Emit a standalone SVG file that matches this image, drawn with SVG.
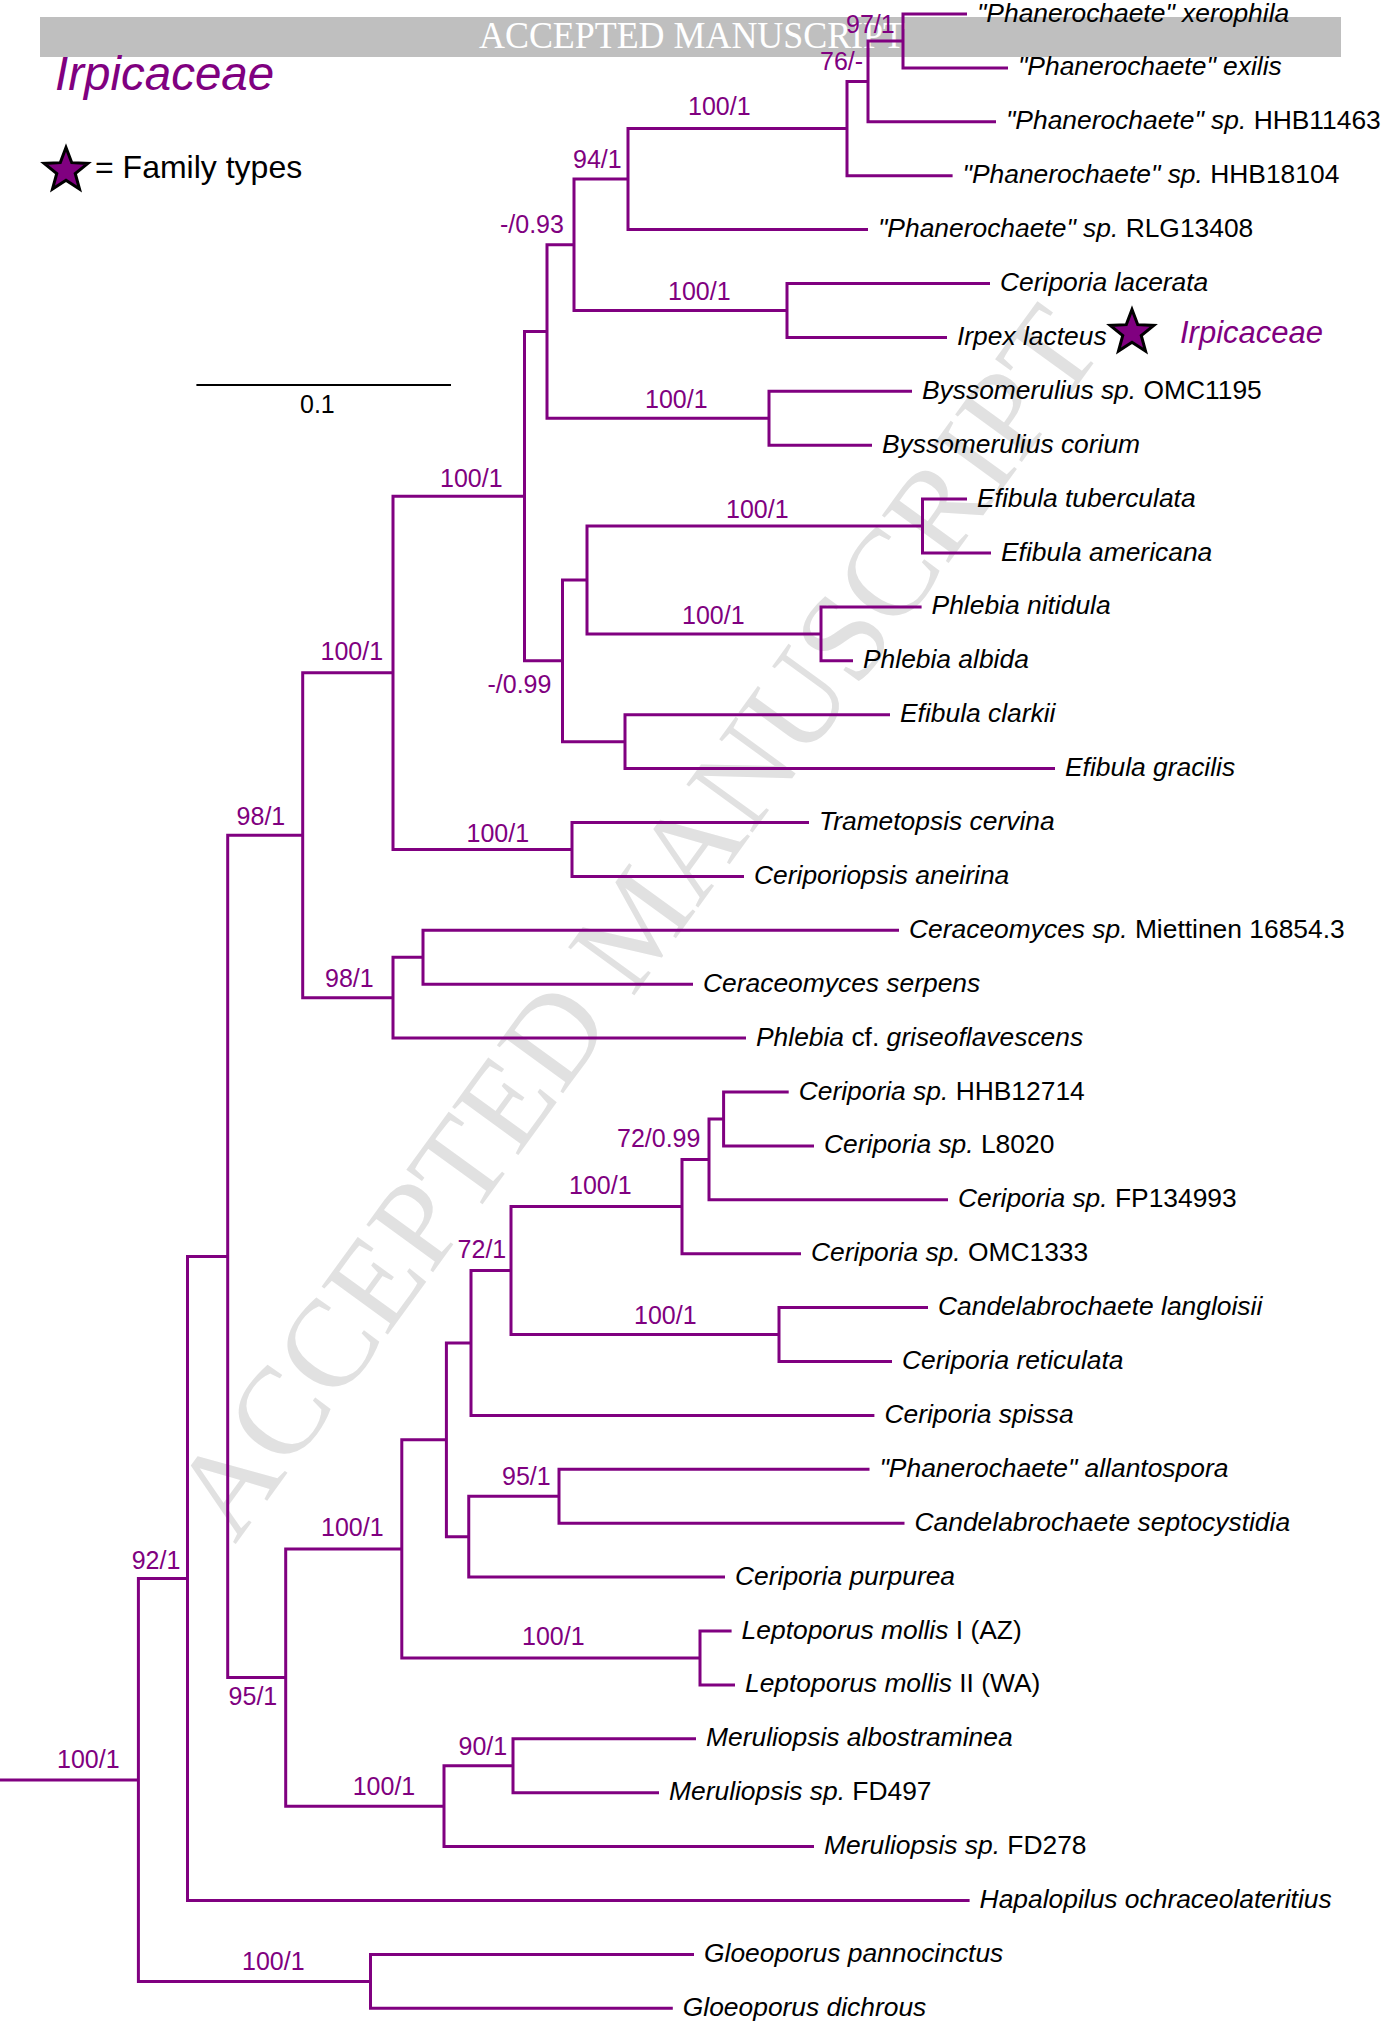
<svg xmlns="http://www.w3.org/2000/svg" width="1384" height="2022" viewBox="0 0 1384 2022">
<style>
.br{fill:none;stroke:#800080;stroke-width:3;stroke-linejoin:miter}
.lf{font-family:"Liberation Sans",Arial,sans-serif;font-size:26.4px;fill:#000;font-style:italic}
.r{font-style:normal}
.sp{font-family:"Liberation Sans",Arial,sans-serif;font-size:25px;fill:#800080}
.star{fill:#800080;stroke:#000;stroke-width:3;stroke-linejoin:miter}
</style>
<defs>
<path id="star" d="M0,-23 L5.7,-7.85 L21.87,-7.11 L9.23,3 L13.52,18.61 L0,9.7 L-13.52,18.61 L-9.23,3 L-21.87,-7.11 L-5.7,-7.85 Z"/>
</defs>
<rect width="1384" height="2022" fill="#fff"/>
<g id="watermark">
<text transform="translate(235,1545) rotate(-54)" font-family="Liberation Serif,serif" font-size="125" fill="#e1e1e1" textLength="1480" lengthAdjust="spacingAndGlyphs">ACCEPTED MANUSCRIPT</text>
</g>
<g id="banner">
<rect x="40" y="17" width="1301" height="40" fill="#bfbfbf"/>
<text x="479" y="48" font-family="Liberation Serif,serif" font-size="37" fill="#fff" textLength="426" lengthAdjust="spacingAndGlyphs">ACCEPTED MANUSCRIPT</text>
</g>
<g id="title">
<text x="55" y="90" font-family="Liberation Sans,Arial,sans-serif" font-size="47.5" font-style="italic" fill="#800080">Irpicaceae</text>
</g>
<g id="legend">
<use href="#star" class="star" transform="translate(66,170.5)"/>
<text x="95" y="178" font-family="Liberation Sans,Arial,sans-serif" font-size="32" fill="#000">= Family types</text>
</g>
<g id="scalebar">
<line x1="196.4" y1="385" x2="451" y2="385" stroke="#000" stroke-width="2"/>
<text x="300" y="413" font-family="Liberation Sans,Arial,sans-serif" font-size="25" fill="#000">0.1</text>
</g>
<g id="branches" class="br">
<path d="M967 14 H903 V67.9 H1008"/>
<path d="M903 41 H868 V121.8 H996"/>
<path d="M868 81.4 H847 V175.7 H952.6"/>
<path d="M847 128.6 H628 V229.6 H868"/>
<path d="M990 283.5 H787 V337.4 H947"/>
<path d="M628 179.1 H574 V310.5 H787"/>
<path d="M912 391.3 H769 V445.2 H872"/>
<path d="M574 244.8 H547 V418.3 H769"/>
<path d="M967 499.1 H922.5 V553 H991"/>
<path d="M921.6 606.9 H821 V660.8 H853"/>
<path d="M922.5 526 H587 V633.9 H821"/>
<path d="M890 714.7 H625 V768.6 H1055"/>
<path d="M587 580 H562.5 V741.7 H625"/>
<path d="M547 331.5 H524.5 V660.8 H562.5"/>
<path d="M809 822.5 H572 V876.4 H744"/>
<path d="M524.5 496.2 H393 V849.5 H572"/>
<path d="M899 930.3 H423 V984.2 H693"/>
<path d="M423 957.3 H393 V1038.1 H746"/>
<path d="M393 672.8 H302.7 V997.7 H393"/>
<path d="M788.7 1092 H723.6 V1145.9 H814"/>
<path d="M723.6 1119 H709 V1199.8 H948"/>
<path d="M709 1159.4 H682 V1253.7 H801"/>
<path d="M928 1307.6 H779 V1361.5 H892"/>
<path d="M682 1206.5 H511 V1334.5 H779"/>
<path d="M511 1270.5 H471 V1415.4 H874.4"/>
<path d="M869.5 1469.3 H559 V1523.2 H904.5"/>
<path d="M559 1496.2 H468.75 V1577.1 H725"/>
<path d="M471 1343 H446.4 V1536.7 H468.75"/>
<path d="M731.6 1631 H700 V1684.9 H735"/>
<path d="M446.4 1439.8 H401.8 V1658 H700"/>
<path d="M696 1738.8 H513 V1792.7 H659"/>
<path d="M513 1765.8 H444 V1846.6 H814"/>
<path d="M401.8 1548.9 H285.7 V1806.2 H444"/>
<path d="M302.7 835.2 H227.7 V1677.5 H285.7"/>
<path d="M227.7 1256.4 H187.5 V1900.5 H969.6"/>
<path d="M694 1954.4 H370.5 V2008.3 H672.8"/>
<path d="M187.5 1578.4 H138.4 V1981.4 H370.5"/>
<path d="M0 1779.9 H138.4"/>
</g>
<g id="supports" class="sp">
<g id="n-97-1"><text x="846" y="33">97/1</text></g>
<g id="n-76"><text x="820" y="70">76/-</text></g>
<g id="n-phan"><text x="688" y="115">100/1</text></g>
<g id="n-94-1"><text x="573" y="168">94/1</text></g>
<g id="n-093"><text x="500" y="233">-/0.93</text></g>
<g id="n-irpex"><text x="668" y="300">100/1</text></g>
<g id="n-bysso"><text x="645" y="408">100/1</text></g>
<g id="n-core"><text x="440" y="487">100/1</text></g>
<g id="n-efib"><text x="726" y="518">100/1</text></g>
<g id="n-phleb"><text x="682" y="624">100/1</text></g>
<g id="n-irp-all"><text x="320.5" y="660">100/1</text></g>
<g id="n-099"><text x="487.5" y="693">-/0.99</text></g>
<g id="n-98-1a"><text x="236.6" y="825">98/1</text></g>
<g id="n-trame"><text x="466.5" y="842">100/1</text></g>
<g id="n-98-1b"><text x="325" y="987">98/1</text></g>
<g id="n-72-099"><text x="617" y="1147">72/0.99</text></g>
<g id="n-cerip"><text x="569" y="1194">100/1</text></g>
<g id="n-72-1"><text x="457.6" y="1258">72/1</text></g>
<g id="n-cand"><text x="634" y="1324">100/1</text></g>
<g id="n-95-1a"><text x="502" y="1485">95/1</text></g>
<g id="n-lower"><text x="321" y="1536">100/1</text></g>
<g id="n-92-1"><text x="131.7" y="1569">92/1</text></g>
<g id="n-lepto"><text x="522" y="1645">100/1</text></g>
<g id="n-95-1b"><text x="228.6" y="1705">95/1</text></g>
<g id="n-90-1"><text x="458.5" y="1755">90/1</text></g>
<g id="n-root"><text x="57" y="1768">100/1</text></g>
<g id="n-meru"><text x="352.7" y="1795">100/1</text></g>
<g id="n-gloeo"><text x="242" y="1970">100/1</text></g>
</g>
<g id="leaves" class="lf">
<g id="t00"><text x="977" y="21.5">"Phanerochaete" xerophila</text></g>
<g id="t01"><text x="1018" y="75.4">"Phanerochaete" exilis</text></g>
<g id="t02"><text x="1006" y="129.3">"Phanerochaete" sp.<tspan class="r"> HHB11463</tspan></text></g>
<g id="t03"><text x="962.6" y="183.2">"Phanerochaete" sp.<tspan class="r"> HHB18104</tspan></text></g>
<g id="t04"><text x="878" y="237.1">"Phanerochaete" sp.<tspan class="r"> RLG13408</tspan></text></g>
<g id="t05"><text x="1000" y="291">Ceriporia lacerata</text></g>
<g id="t06"><text x="957" y="344.9">Irpex lacteus</text>
<use href="#star" class="star" transform="translate(1132,332.5)"/>
<text x="1180" y="343" font-size="31" fill="#800080">Irpicaceae</text></g>
<g id="t07"><text x="922" y="398.8">Byssomerulius sp.<tspan class="r"> OMC1195</tspan></text></g>
<g id="t08"><text x="882" y="452.7">Byssomerulius corium</text></g>
<g id="t09"><text x="977" y="506.6">Efibula tuberculata</text></g>
<g id="t10"><text x="1001" y="560.5">Efibula americana</text></g>
<g id="t11"><text x="931.6" y="614.4">Phlebia nitidula</text></g>
<g id="t12"><text x="863" y="668.3">Phlebia albida</text></g>
<g id="t13"><text x="900" y="722.2">Efibula clarkii</text></g>
<g id="t14"><text x="1065" y="776.1">Efibula gracilis</text></g>
<g id="t15"><text x="819" y="830">Trametopsis cervina</text></g>
<g id="t16"><text x="754" y="883.9">Ceriporiopsis aneirina</text></g>
<g id="t17"><text x="909" y="937.8">Ceraceomyces sp.<tspan class="r"> Miettinen 16854.3</tspan></text></g>
<g id="t18"><text x="703" y="991.7">Ceraceomyces serpens</text></g>
<g id="t19"><text x="756" y="1045.6">Phlebia <tspan class="r">cf.</tspan> griseoflavescens</text></g>
<g id="t20"><text x="798.7" y="1099.5">Ceriporia sp.<tspan class="r"> HHB12714</tspan></text></g>
<g id="t21"><text x="824" y="1153.4">Ceriporia sp.<tspan class="r"> L8020</tspan></text></g>
<g id="t22"><text x="958" y="1207.3">Ceriporia sp.<tspan class="r"> FP134993</tspan></text></g>
<g id="t23"><text x="811" y="1261.2">Ceriporia sp.<tspan class="r"> OMC1333</tspan></text></g>
<g id="t24"><text x="938" y="1315.1">Candelabrochaete langloisii</text></g>
<g id="t25"><text x="902" y="1369">Ceriporia reticulata</text></g>
<g id="t26"><text x="884.4" y="1422.9">Ceriporia spissa</text></g>
<g id="t27"><text x="879.5" y="1476.8">"Phanerochaete" allantospora</text></g>
<g id="t28"><text x="914.5" y="1530.7">Candelabrochaete septocystidia</text></g>
<g id="t29"><text x="735" y="1584.6">Ceriporia purpurea</text></g>
<g id="t30"><text x="741.6" y="1638.5">Leptoporus mollis<tspan class="r"> I (AZ)</tspan></text></g>
<g id="t31"><text x="745" y="1692.4">Leptoporus mollis<tspan class="r"> II (WA)</tspan></text></g>
<g id="t32"><text x="706" y="1746.3">Meruliopsis albostraminea</text></g>
<g id="t33"><text x="669" y="1800.2">Meruliopsis sp.<tspan class="r"> FD497</tspan></text></g>
<g id="t34"><text x="824" y="1854.1">Meruliopsis sp.<tspan class="r"> FD278</tspan></text></g>
<g id="t35"><text x="979.6" y="1908">Hapalopilus ochraceolateritius</text></g>
<g id="t36"><text x="704" y="1961.9">Gloeoporus pannocinctus</text></g>
<g id="t37"><text x="682.8" y="2015.8">Gloeoporus dichrous</text></g>
</g>
</svg>
